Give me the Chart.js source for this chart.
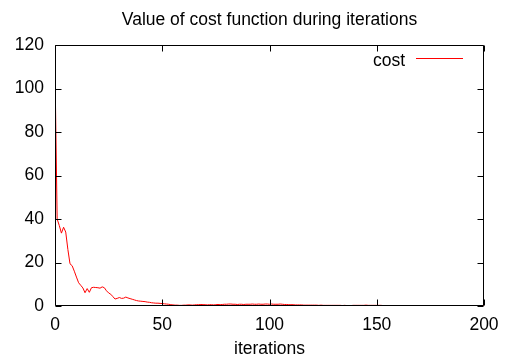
<!DOCTYPE html>
<html>
<head>
<meta charset="utf-8">
<script src="https://cdn.jsdelivr.net/npm/chart.js@4/dist/chart.umd.min.js"></script>
<style>
html,body{margin:0;padding:0;background:#fff;}
#wrap{width:509px;height:358px;position:relative;}
</style>
</head>
<body>
<div id="wrap"><canvas id="c" width="509" height="358"></canvas></div>
<script>
const chartTitle = "Value of cost function during iterations";
const xAxisTitle = "iterations";
const seriesLabel = "cost";
const xTicks = [0, 50, 100, 150, 200];
const yTicks = [0, 20, 40, 60, 80, 100, 120];
const cost = [
  108, 40, 37, 33.5, 36.2, 34, 26, 19.4, 18.5, 16,
  13.3, 10.7, 9.5, 8.3, 6.1, 8, 6.3, 8.4, 8.6, 8.5,
  8.4, 8.2, 8.8, 8.4, 7, 6, 5.4, 4.3, 3.2, 3.5,
  3.9, 3.5, 3.6, 4.1, 3.7, 3.4, 3.1, 2.8, 2.5, 2.3,
  2.2, 2.1, 2.0, 1.8, 1.7, 1.5, 1.4, 1.3, 1.3, 1.2,
  1.1, 1.0, 0.9, 0.8, 0.6, 0.5, 0.4, 0.4, 0.3, 0.3,
  0.4, 0.4, 0.5, 0.5, 0.4, 0.5, 0.6, 0.6, 0.7, 0.6,
  0.6, 0.5, 0.6, 0.6, 0.5, 0.6, 0.7, 0.6, 0.7, 0.8,
  0.8, 0.9, 0.9, 0.8, 0.8, 0.7, 0.8, 0.8, 0.7, 0.8,
  0.8, 0.8, 0.9, 0.8, 0.8, 0.9, 0.8, 0.8, 0.9, 0.9,
  0.8, 0.9, 0.8, 0.8, 0.8, 0.9, 0.8, 0.7, 0.7, 0.6,
  0.6, 0.6, 0.5, 0.5, 0.5, 0.5, 0.4, 0.4, 0.4, 0.4,
  0.4, 0.4, 0.4, 0.3, 0.4, 0.3, 0.3, 0.3, 0.3, 0.3,
  0.3, 0.3, 0.3, 0.3, 0.2, 0.3, 0.2, 0.2, 0.2, 0.3,
  0.3, 0.3, 0.3, 0.3, 0.3, 0.4, 0.3, 0.3, 0.3, 0.3,
  0.3, 0.3, 0.3, 0.2, 0.2, 0.2, 0.2, 0.2, 0.2, 0.2,
  0.2, 0.2, 0.2, 0.2, 0.2, 0.2, 0.2, 0.2, 0.1, 0.2,
  0.2, 0.1, 0.1, 0.1, 0.1, 0.1, 0.1, 0.1, 0.1, 0.1,
  0.1, 0.1, 0.1, 0.1, 0.1, 0.1, 0.1, 0.1, 0.1, 0.1,
  0.1, 0.1, 0.1, 0.1, 0.1, 0.1, 0.1, 0.1, 0.1, 0.1,
  0.1
];
const points = cost.map((v, i) => ({x: i, y: v}));

const FONT = "'Liberation Sans', Arial, sans-serif";
const FS = 17.5;
const TICK = 6;

const framePlugin = {
  id: 'frame',
  afterDraw(chart) {
    const {ctx, chartArea: a, scales} = chart;
    ctx.save();
    ctx.strokeStyle = '#000';
    ctx.lineWidth = 1;
    ctx.beginPath();
    const L = Math.round(a.left) + 0.5, R = Math.round(a.right) - 0.5;
    const T = Math.round(a.top) + 0.5, B = Math.round(a.bottom) - 0.5;
    ctx.rect(L, T, R - L, B - T);
    scales.x.ticks.forEach(t => {
      const px = Math.round(scales.x.getPixelForValue(t.value)) + 0.5;
      ctx.moveTo(px, B); ctx.lineTo(px, B - TICK);
      ctx.moveTo(px, T); ctx.lineTo(px, T + TICK);
    });
    scales.y.ticks.forEach(t => {
      const py = Math.round(scales.y.getPixelForValue(t.value)) + 0.5;
      ctx.moveTo(L, py); ctx.lineTo(L + TICK, py);
      ctx.moveTo(R, py); ctx.lineTo(R - TICK, py);
    });
    ctx.stroke();
    // legend (inside top-right)
    ctx.font = FS + 'px ' + FONT;
    ctx.fillStyle = '#000';
    ctx.textAlign = 'right';
    ctx.textBaseline = 'alphabetic';
    ctx.fillText(chart.data.datasets[0].label, 405, 65.5);
    ctx.strokeStyle = chart.data.datasets[0].borderColor;
    ctx.beginPath();
    ctx.moveTo(416, 58.5); ctx.lineTo(463, 58.5);
    ctx.stroke();
    ctx.restore();
  }
};

new Chart(document.getElementById('c'), {
  type: 'line',
  data: {
    datasets: [{
      label: seriesLabel,
      data: points,
      borderColor: '#ff0000',
      borderWidth: 1,
      pointRadius: 0,
      fill: false,
      tension: 0
    }]
  },
  options: {
    responsive: false,
    animation: false,
    devicePixelRatio: 1,
    layout: {padding: {left: 0, right: 25, top: 0, bottom: 0}},
    plugins: {
      legend: {display: false},
      tooltip: {enabled: false},
      title: {
        display: true,
        text: chartTitle,
        fullSize: false,
        color: '#000',
        font: {family: FONT, size: FS, weight: 'normal'},
        padding: {top: 10, bottom: 14}
      }
    },
    scales: {
      x: {
        type: 'linear',
        min: 0, max: 200,
        afterBuildTicks: s => { s.ticks = xTicks.map(v => ({value: v})); },
        afterFit: s => { s.height = 52; },
        grid: {display: false, drawTicks: false},
        border: {display: false},
        ticks: {color: '#000', font: {family: FONT, size: FS}, padding: 9, maxRotation: 0},
        title: {display: true, text: xAxisTitle, color: '#000',
                font: {family: FONT, size: FS}, padding: {top: 0, bottom: -2}}
      },
      y: {
        type: 'linear',
        min: 0, max: 120,
        afterBuildTicks: s => { s.ticks = yTicks.map(v => ({value: v})); },
        afterFit: s => { s.width = 55; },
        grid: {display: false, drawTicks: false},
        border: {display: false},
        ticks: {color: '#000', font: {family: FONT, size: FS}, padding: 11}
      }
    }
  },
  plugins: [framePlugin]
});
</script>
</body>
</html>
